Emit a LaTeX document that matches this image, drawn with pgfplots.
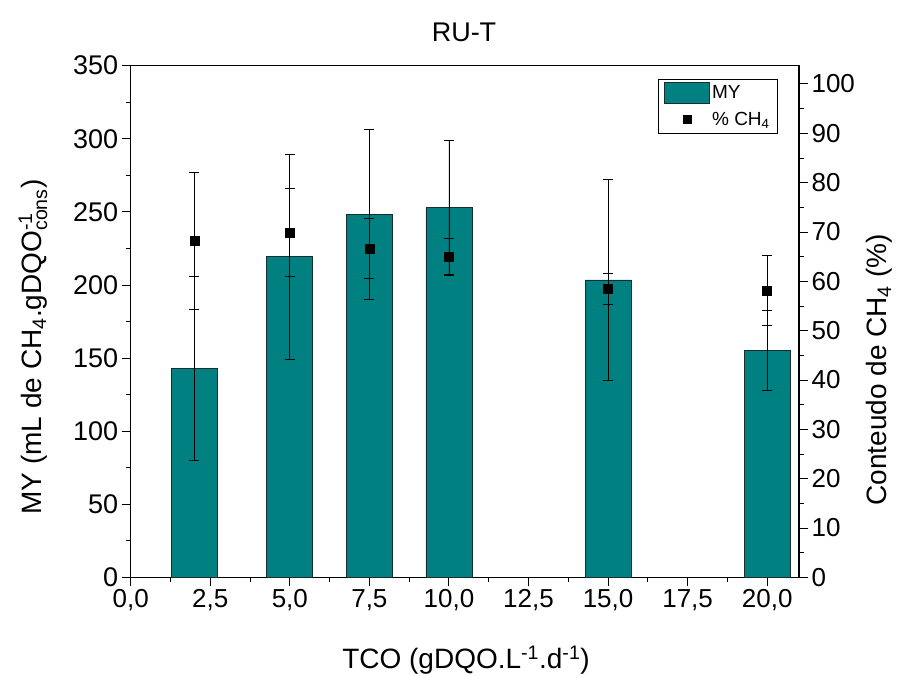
\documentclass[border=0pt]{standalone}
\usepackage{fontspec}
\setmainfont{Liberation Sans}
\usepackage{amsmath}
\usepackage{pgfplots}
\pgfplotsset{compat=1.18}

\definecolor{barfill}{RGB}{0,128,128}
\definecolor{baredge}{RGB}{25,45,45}

\begin{document}
\begin{tikzpicture}
\pgfplotsset{
  common/.style={
    scale only axis, width=668.3pt, height=511.6pt,
    at={(130.7pt,97.7pt)}, anchor=south west,
    xmin=0, xmax=21,
    tick align=outside,
    major tick length=9pt, minor tick length=5pt,
    every tick/.style={line width=0.9pt, black},
    axis line style={line width=1.2pt},
    tick label style={font=\fontsize{26}{30}\selectfont},
    /pgf/number format/assume math mode=true,
  }
}
\begin{axis}[common,
  ymin=0, ymax=350,
  ytick={0,50,...,350}, minor ytick={25,75,...,325},
  xtick={0,2.5,...,20}, minor xtick={1.25,3.75,...,20},
  xtick pos=bottom, ytick pos=left,
  yticklabel style={font=\fontsize{27}{30}\selectfont},
  xticklabel style={/pgf/number format/.cd, fixed, fixed zerofill, precision=1, use comma},
  legend cell align=left,
  legend style={at={(0.9686,0.9744)}, anchor=north east, draw=black, line width=0.8pt,
    fill=white, font=\fontsize{19}{22}\selectfont, inner xsep=6pt, inner ysep=3pt, row sep=5pt},
]
\addplot[ybar, bar width=1.445, fill=barfill, draw=baredge, line width=0.8pt,
  legend image code/.code={\draw[fill=barfill, draw=baredge, line width=0.8pt] (0pt,-10.5pt) rectangle (45pt,10.5pt);},
  error bars/.cd, y dir=both, y explicit,
  error bar style={black, line width=0.8pt},
  error mark options={black, mark size=5pt, line width=0.8pt, rotate=90}]
  table[x=x, y=y, y error=e] {
x y e
2 143.0 62.9
5 219.3 70.1
7.5 248.3 58.2
10 252.9 46.3
15 203.4 68.5
20 155.3 27.6
};
\addlegendentry{MY}
\addlegendimage{legend image code/.code={\path[draw=none, fill=none] (0pt,-10.5pt) rectangle (45pt,10.5pt); \fill[black] (18.75pt,-3.9pt) rectangle (26.25pt,3.9pt);}}
\addlegendentry{\% CH\textsubscript{4}}
\end{axis}

\begin{axis}[common,
  ymin=0, ymax=103.7,
  hide x axis,
  axis line style={draw=none},
  ytick={0,10,...,100}, minor ytick={5,15,...,95},
  ytick pos=right, yticklabel pos=right,
]
\addplot[only marks, mark=square*, mark size=4.5pt, black,
  error bars/.cd, y dir=both, y explicit,
  error bar style={black, line width=0.8pt},
  error mark options={black, mark size=5pt, line width=0.8pt, rotate=90}]
  table[x=x, y=y, y error=e] {
x y e
2 68.2 13.9
5 69.9 9.0
7.5 66.7 6.1
10 65.0 3.7
15 58.5 3.2
20 58.1 7.1
};
\end{axis}

\node[font=\fontsize{27}{30}\selectfont] at (464pt,643pt) {RU-T};
\node[rotate=90, font=\fontsize{28}{32}\selectfont] at (33pt,328pt) {MY (mL de CH\textsubscript{4}.gDQO$^{\text{-1}}_{\text{cons}}$)};
\node[rotate=90, font=\fontsize{28}{32}\selectfont] at (879pt,305pt) {Conteudo de CH\textsubscript{4} (\%)};
\node[font=\fontsize{28}{32}\selectfont] at (466pt,15pt) {TCO (gDQO.L$^{\text{-1}}$.d$^{\text{-1}}$)};

\pgfresetboundingbox
\useasboundingbox (0pt,0pt) rectangle (901pt,675pt);
\end{tikzpicture}
\end{document}
